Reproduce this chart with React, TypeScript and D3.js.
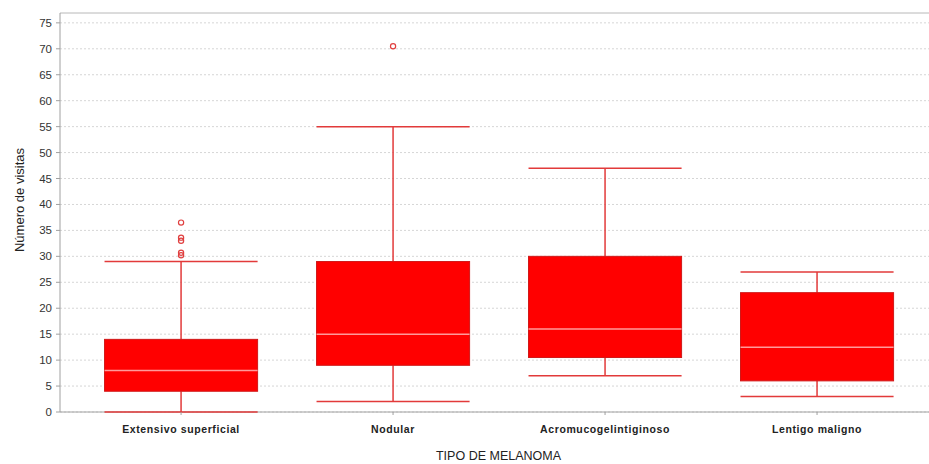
import React from "react";
import * as d3 from "d3";

// Visit counts per melanoma type: box-plot summaries
const categories = ["Extensivo superficial", "Nodular", "Acromucogelintiginoso", "Lentigo maligno"];
const whiskerLow = [0, 2, 7, 3];
const q1 = [4, 9, 10.5, 6];
const median = [8, 15, 16, 12.5];
const q3 = [14, 29, 30, 23];
const whiskerHigh = [29, 55, 47, 27];
const outliers: number[][] = [[30.2, 30.7, 33.0, 33.6, 36.5], [70.5], [], []];
const yTicks = [0, 5, 10, 15, 20, 25, 30, 35, 40, 45, 50, 55, 60, 65, 70, 75];

const W = 929;
const H = 464;
const margin = { left: 60, right: 0, top: 13, bottom: 52 };

export default function App() {
  const plotBottom = H - margin.bottom;
  const y = d3.scaleLinear().domain([0, 76.9]).range([plotBottom, margin.top]);
  const x = d3
    .scaleBand<string>()
    .domain(categories)
    .range([margin.left, W - margin.right])
    .paddingInner(0.278)
    .paddingOuter(0.1886)
    .align(0.557);
  const bw = x.bandwidth();
  const font = "Arial, 'Liberation Sans', sans-serif";
  const red = "#ff0000";
  const lineRed = "#e23a3a";

  return (
    <svg width={W} height={H} style={{ position: "absolute", left: 0, top: 0, background: "#fff" }}>
      {/* gridlines */}
      {yTicks.map((t) => (
        <line
          key={"g" + t}
          x1={margin.left}
          x2={W - margin.right}
          y1={y(t)}
          y2={y(t)}
          stroke="#d6d6d6"
          strokeWidth={1}
          strokeDasharray="2,2"
        />
      ))}
      {/* frame */}
      <line x1={margin.left} x2={W} y1={margin.top} y2={margin.top} stroke="#b8b8b8" />
      <line x1={margin.left} x2={margin.left} y1={margin.top} y2={plotBottom} stroke="#a0a0a0" />
      <line x1={margin.left} x2={W} y1={plotBottom} y2={plotBottom} stroke="#a0a0a0" />
      {/* y ticks */}
      {yTicks.map((t) => (
        <g key={"t" + t}>
          <line x1={margin.left - 4} x2={margin.left} y1={y(t)} y2={y(t)} stroke="#a0a0a0" />
          <text
            x={margin.left - 8}
            y={y(t)}
            dy="0.35em"
            textAnchor="end"
            fontFamily={font}
            fontSize={11.5}
            fill="#333"
          >
            {t}
          </text>
        </g>
      ))}
      {/* boxes */}
      {categories.map((c, i) => {
        const x0 = x(c)!;
        const cx = x0 + bw / 2;
        return (
          <g key={c}>
            <line x1={cx} x2={cx} y1={y(whiskerHigh[i])} y2={y(q3[i])} stroke={lineRed} strokeWidth={1.5} />
            <line x1={cx} x2={cx} y1={y(q1[i])} y2={y(whiskerLow[i])} stroke={lineRed} strokeWidth={1.5} />
            <line x1={x0} x2={x0 + bw} y1={y(whiskerHigh[i])} y2={y(whiskerHigh[i])} stroke={lineRed} strokeWidth={1.5} />
            <line x1={x0} x2={x0 + bw} y1={y(whiskerLow[i])} y2={y(whiskerLow[i])} stroke={lineRed} strokeWidth={1.5} />
            <rect
              x={x0}
              y={y(q3[i])}
              width={bw}
              height={y(q1[i]) - y(q3[i])}
              fill={red}
              stroke="#d01818"
              strokeWidth={1}
            />
            <line x1={x0} x2={x0 + bw} y1={y(median[i])} y2={y(median[i])} stroke="#ff9a9a" strokeWidth={1.5} />
            {outliers[i].map((v, j) => (
              <circle key={j} cx={cx} cy={y(v)} r={2.6} fill="none" stroke="#e04040" strokeWidth={1.2} />
            ))}
            <line x1={cx} x2={cx} y1={plotBottom} y2={plotBottom + 3} stroke="#a0a0a0" />
            <text
              x={cx}
              y={plotBottom + 21}
              textAnchor="middle"
              fontFamily={font}
              fontSize={10.5}
              fontWeight="bold"
              letterSpacing={0.6}
              fill="#222"
            >
              {c}
            </text>
          </g>
        );
      })}
      {/* axis titles */}
      <text
        x={(margin.left + W) / 2 + 4}
        y={H - 4}
        textAnchor="middle"
        fontFamily={font}
        fontSize={12.5}
        fill="#222"
      >
        TIPO DE MELANOMA
      </text>
      <text
        transform={`translate(24, 200) rotate(-90)`}
        textAnchor="middle"
        fontFamily={font}
        fontSize={13}
        fill="#222"
      >
        Número de visitas
      </text>
    </svg>
  );
}
